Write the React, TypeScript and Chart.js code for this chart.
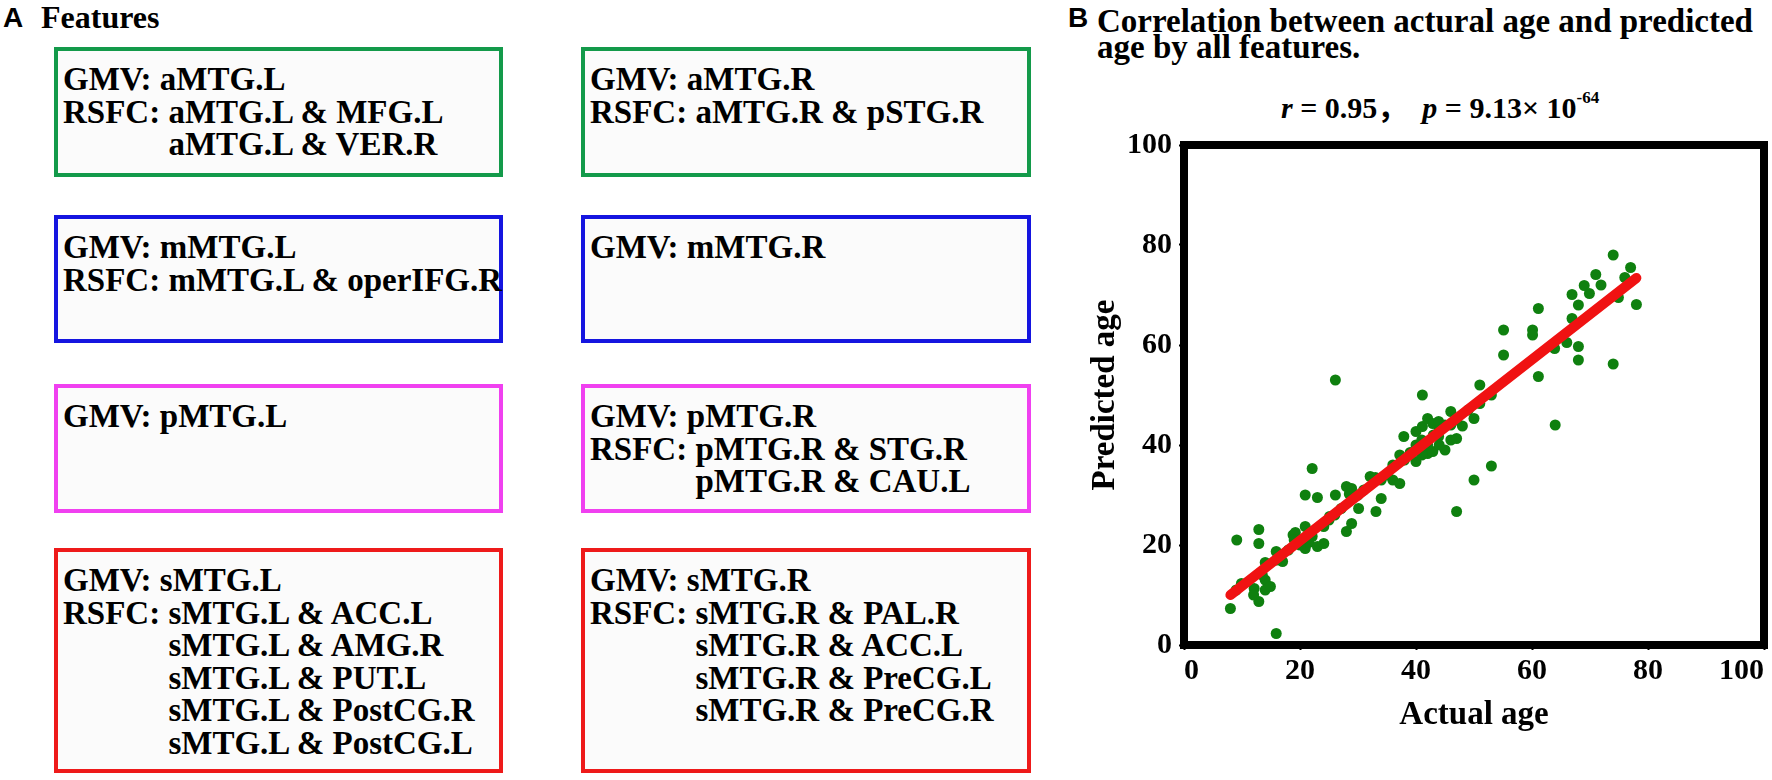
import React, { useEffect, useRef } from "react";
import { Chart, registerables } from "chart.js";

Chart.register(...registerables);

// ---------- Panel B data ----------
const actualAge = [
  8.0, 9.1, 9.9, 9.0, 12.1, 12.9, 12.9, 12.9, 12.0, 14.0, 14.0, 14.0, 14.9, 13.5, 15.9, 15.9, 17.0,
  18.8, 19.6, 19.2, 20.9, 20.9, 20.9, 22.1, 22.1, 21.5, 23.0, 23.0, 24.1, 24.1, 25.1, 26.1, 27.1,
  28.0, 28.0, 28.9, 28.9, 28.5, 30.1, 32.1, 33.1, 34.0, 34.0, 36.0, 37.2, 37.2, 37.9, 40.0, 40.0,
  41.1, 41.1, 41.1, 42.0, 42.0, 42.9, 42.9, 43.9, 43.9, 45.0, 46.0, 46.0, 47.0, 47.0, 48.0, 50.0,
  50.0, 51.0, 51.0, 53.0, 53.0, 64.0,
  16.0, 18.0, 19.0, 20.0, 22.0, 24.0, 25.0, 26.0, 30.0, 31.0, 33.0, 35.0, 36.0, 38.0, 39.0, 40.0,
  41.0, 43.0, 44.0, 45.0, 47.0, 49.0, 41.0, 42.0, 44.0, 46.0,
  26.1, 55.1, 55.1, 60.1, 60.1, 61.1, 61.1, 63.9, 66.0, 66.9, 66.9, 68.0, 68.0, 68.0, 69.0, 69.9,
  71.0, 71.9, 74.0, 74.0, 74.9, 76.0, 77.0, 78.0,
];
const predictedAge = [
  7.3, 21.0, 12.3, 11.0, 11.3, 8.7, 23.1, 20.3, 10.0, 16.5, 13.0, 11.0, 11.7, 14.0, 2.3, 18.7, 16.7,
  22.0, 21.0, 22.5, 23.7, 19.3, 30.0, 35.3, 21.7, 20.5, 19.7, 29.5, 20.3, 23.7, 25.7, 30.0, 27.3,
  22.7, 31.7, 24.3, 31.3, 30.2, 27.3, 33.7, 26.7, 29.3, 33.0, 33.0, 32.3, 38.0, 41.7, 36.7, 42.7,
  50.0, 43.7, 39.7, 45.3, 38.3, 38.7, 44.3, 44.7, 41.7, 39.0, 46.7, 41.0, 41.3, 26.7, 43.8, 45.3,
  33.0, 52.0, 48.3, 50.0, 35.8, 44.0,
  17.0, 19.0, 21.0, 20.0, 22.0, 24.0, 25.0, 26.0, 30.0, 31.0, 33.5, 34.0, 36.0, 37.0, 38.5, 40.0,
  41.0, 42.0, 43.0, 44.0, 45.0, 47.0, 38.0, 40.0, 40.0, 44.0,
  53.0, 63.0, 58.0, 63.0, 62.0, 67.3, 53.7, 59.3, 60.5, 65.3, 70.1, 68.0, 59.7, 57.0, 71.9, 70.3,
  74.1, 72.0, 78.0, 56.2, 69.5, 73.5, 75.5, 68.1,
];
const fitActual = [8, 78];
const fitPredicted = [10, 73.4];
const xTickValues = [0, 20, 40, 60, 80, 100];
const yTickValues = [0, 20, 40, 60, 80, 100];

// ---------- Panel A data ----------
const gmvLabels = [
  "aMTG.L", "aMTG.R",
  "mMTG.L", "mMTG.R",
  "pMTG.L", "pMTG.R",
  "sMTG.L", "sMTG.R",
];
const rsfcLabels: string[][] = [
  ["aMTG.L & MFG.L", "aMTG.L & VER.R"],
  ["aMTG.R & pSTG.R"],
  ["mMTG.L & operIFG.R"],
  [],
  [],
  ["pMTG.R & STG.R", "pMTG.R & CAU.L"],
  ["sMTG.L & ACC.L", "sMTG.L & AMG.R", "sMTG.L & PUT.L", "sMTG.L & PostCG.R", "sMTG.L & PostCG.L"],
  ["sMTG.R & PAL.R", "sMTG.R & ACC.L", "sMTG.R & PreCG.L", "sMTG.R & PreCG.R"],
];
const boxColors = ["#139a4a", "#139a4a", "#1515e0", "#1515e0", "#f040f0", "#f040f0", "#ee1a1a", "#ee1a1a"];

const SERIF = '"Liberation Serif", "Times New Roman", serif';
const SANS = '"Liberation Sans", Arial, sans-serif';

const colLeft = [54, 581];
const colWidth = [449, 450];
const rowTop = [47, 215, 384, 548];
const rowHeight = [130, 128, 129, 225];

function FeatureBox({ idx }: { idx: number }) {
  const col = idx % 2;
  const row = Math.floor(idx / 2);
  const rs = rsfcLabels[idx];
  return (
    <div
      style={{
        position: "absolute",
        left: colLeft[col],
        top: rowTop[row],
        width: colWidth[col],
        height: rowHeight[row],
        boxSizing: "border-box",
        border: `4px solid ${boxColors[idx]}`,
        background: "#fbfbfb",
        padding: "12px 0 0 5px",
        fontFamily: SERIF,
        fontWeight: "bold",
        fontSize: 33,
        lineHeight: "32.6px",
        color: "#000",
        whiteSpace: "nowrap",
        overflow: "visible",
      }}
    >
      <div>{"GMV: " + gmvLabels[idx]}</div>
      {rs.length > 0 && (
        <div style={{ display: "flex" }}>
          <span style={{ whiteSpace: "pre" }}>{"RSFC: "}</span>
          <div>
            {rs.map((t, i) => (
              <div key={i}>{t}</div>
            ))}
          </div>
        </div>
      )}
    </div>
  );
}

const framePlugin = {
  id: "frame",
  beforeDatasetsDraw(chart: any) {
    const { ctx, chartArea } = chart;
    const { left, top, right, bottom } = chartArea;
    ctx.save();
    ctx.lineWidth = 8;
    ctx.strokeStyle = "#000";
    ctx.strokeRect(left, top, right - left, bottom - top);
    ctx.restore();
  },
};

function ScatterChart() {
  const ref = useRef<HTMLCanvasElement | null>(null);
  useEffect(() => {
    if (!ref.current) return;
    const points = actualAge.map((x, i) => ({ x, y: predictedAge[i] }));
    const fit = fitActual.map((x, i) => ({ x, y: fitPredicted[i] }));
    const tickFont = { family: SERIF, size: 30, weight: "bold" as const };
    const titleFont = { family: SERIF, size: 33, weight: "bold" as const };
    const chart = new Chart(ref.current, {
      type: "scatter",
      data: {
        datasets: [
          {
            type: "line" as any,
            data: fit,
            borderColor: "#f01212",
            borderWidth: 10,
            borderCapStyle: "round",
            pointRadius: 0,
            fill: false,
            order: 0,
          } as any,
          {
            data: points,
            backgroundColor: "#0f800f",
            borderWidth: 0,
            pointRadius: 5.5,
            order: 1,
          },
        ],
      },
      options: {
        animation: false,
        responsive: false,
        layout: { padding: { left: 0, right: 8, top: 45, bottom: 0 } },
        plugins: { legend: { display: false }, tooltip: { enabled: false } },
        scales: {
          x: {
            type: "linear",
            min: 0,
            max: 100,
            afterBuildTicks: (s: any) => {
              s.ticks = xTickValues.map((v) => ({ value: v }));
            },
            afterFit: (s: any) => {
              s.height = 135;
            },
            ticks: { align: "inner", font: tickFont, color: "#000", padding: 3, maxRotation: 0 },
            grid: { drawOnChartArea: false, drawTicks: true, tickLength: 5, tickWidth: 2, tickColor: "#000" },
            border: { display: false },
            title: { display: true, text: "Actual age", font: titleFont, color: "#000", padding: { top: 0, bottom: 45 } },
          },
          y: {
            type: "linear",
            min: 0,
            max: 100,
            afterBuildTicks: (s: any) => {
              s.ticks = yTickValues.map((v) => ({ value: v }));
            },
            afterFit: (s: any) => {
              s.width = 144;
            },
            ticks: { font: tickFont, color: "#000", padding: 7 },
            grid: { drawOnChartArea: false, drawTicks: true, tickLength: 5, tickWidth: 2, tickColor: "#000" },
            border: { display: false },
            title: { display: true, text: "Predicted age", font: titleFont, color: "#000", padding: { top: 46, bottom: 0 } },
          },
        },
      } as any,
      plugins: [framePlugin],
    });
    return () => chart.destroy();
  }, []);
  return <canvas ref={ref} width={732} height={680} style={{ display: "block", width: 732, height: 680 }} />;
}

export default function App() {
  return (
    <div
      style={{
        position: "absolute",
        left: 0,
        top: 0,
        width: 1772,
        height: 780,
        overflow: "hidden",
        background: "#fff",
        color: "#000",
      }}
    >
      {/* Panel A */}
      <div style={{ position: "absolute", left: 3, top: 2, fontFamily: SANS, fontWeight: "bold", fontSize: 28, lineHeight: "32px" }}>A</div>
      <div style={{ position: "absolute", left: 41, top: 0, fontFamily: SERIF, fontWeight: "bold", fontSize: 32, lineHeight: "34px" }}>Features</div>
      {gmvLabels.map((_, i) => (
        <FeatureBox key={i} idx={i} />
      ))}

      {/* Panel B */}
      <div style={{ position: "absolute", left: 1068, top: 2, fontFamily: SANS, fontWeight: "bold", fontSize: 28, lineHeight: "32px" }}>B</div>
      <div style={{ position: "absolute", left: 1097, top: 8, fontFamily: SERIF, fontWeight: "bold", fontSize: 33, lineHeight: "26px", whiteSpace: "nowrap" }}>
        <div>Correlation between actural age and predicted</div>
        <div>age by all features.</div>
      </div>
      <div style={{ position: "absolute", left: 1281, top: 88, fontFamily: SERIF, fontWeight: "bold", fontSize: 30, lineHeight: "34px", whiteSpace: "pre" }}>
        <i>r</i>{" = 0.95"}
        <span style={{ fontFamily: '"Noto Sans CJK SC", sans-serif' }}>，</span>
        {"  "}<i>p</i>{" = 9.13× 10"}
        <sup style={{ fontSize: 17, verticalAlign: "top", lineHeight: "20px" }}>-64</sup>
      </div>
      <div style={{ position: "absolute", left: 1040, top: 100 }}>
        <ScatterChart />
      </div>
    </div>
  );
}
